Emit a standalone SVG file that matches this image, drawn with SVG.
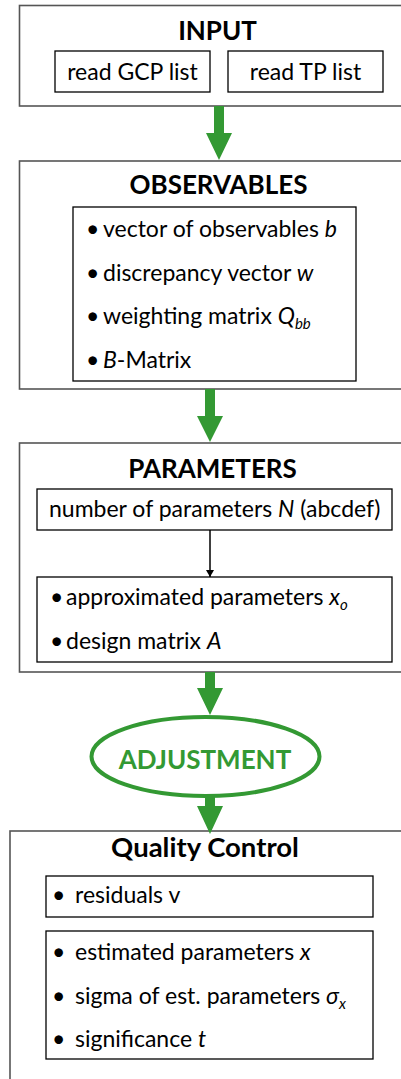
<svg xmlns="http://www.w3.org/2000/svg" width="401" height="1079" viewBox="0 0 401 1079">
<style>
.outer{fill:#fff;stroke:#555;stroke-width:1.6}
.inner{fill:#fff;stroke:#000;stroke-width:1.3}
.h{font-family:Lato,"Open Sans",sans-serif;font-weight:bold;font-size:26px;fill:#000;text-anchor:middle}
.t{font-family:Lato,"Open Sans",sans-serif;font-size:23px;fill:#000}
.c{text-anchor:middle}
.i{font-style:italic}
.sub{font-style:italic;font-size:15px}
.garrow{fill:#339933}
</style>
<defs>
<marker id="ah" markerWidth="8" markerHeight="8" refX="7" refY="4" orient="auto" markerUnits="userSpaceOnUse">
<path d="M0,0 L7,4 L0,8 z" fill="#000"/>
</marker>
</defs>
<rect width="401" height="1079" fill="#fff"/>

<g id="input">
<rect class="outer" x="19.5" y="5.5" width="400" height="100.5"/>
<text class="h" x="217.5" y="39.5">INPUT</text>
<g id="gcp">
<rect class="inner" x="55" y="51" width="155" height="41"/>
<text class="t c" x="132.5" y="80">read GCP list</text>
</g>
<g id="tp">
<rect class="inner" x="228" y="51" width="155" height="41"/>
<text class="t c" x="305.5" y="80">read TP list</text>
</g>
</g>

<g id="observables">
<rect class="outer" x="19.5" y="161" width="400" height="228"/>
<text class="h" x="218.5" y="194">OBSERVABLES</text>
<rect class="inner" x="73" y="207" width="283" height="174"/>
<text class="t" x="86" y="237">•<tspan x="103">vector of observables </tspan><tspan class="i">b</tspan></text>
<text class="t" x="86" y="281">•<tspan x="103">discrepancy vector </tspan><tspan class="i">w</tspan></text>
<text class="t" x="86" y="324">•<tspan x="103">weighting matrix </tspan><tspan class="i">Q</tspan><tspan class="sub" dy="5">bb</tspan></text>
<text class="t" x="86" y="368">•<tspan x="103" class="i">B</tspan>-Matrix</text>
</g>

<g id="parameters">
<rect class="outer" x="19.5" y="443" width="400" height="229"/>
<text class="h" x="212.5" y="478">PARAMETERS</text>
<g id="nparams">
<rect class="inner" x="37" y="489" width="355" height="41"/>
<text class="t" x="49" y="517">number of parameters <tspan class="i">N</tspan> (abcdef)</text>
</g>
<g id="approx">
<rect class="inner" x="37" y="577" width="355" height="85"/>
<text class="t" x="50" y="605">•<tspan x="66">approximated parameters </tspan><tspan class="i">x</tspan><tspan class="sub" dy="5">o</tspan></text>
<text class="t" x="50" y="649">•<tspan x="66">design matrix </tspan><tspan class="i">A</tspan></text>
</g>
</g>

<g id="adjustment">
<ellipse cx="205.5" cy="756.5" rx="114" ry="39.5" fill="#fff" stroke="#339933" stroke-width="4"/>
<text class="h" x="205" y="769" style="fill:#339933">ADJUSTMENT</text>
</g>

<g id="quality">
<rect class="outer" x="10" y="831" width="420" height="300"/>
<text class="h" x="205" y="857" style="font-size:27.5px">Quality Control</text>
<g id="residuals">
<rect class="inner" x="46" y="876" width="327" height="41"/>
<text class="t" x="52" y="903">•<tspan x="75">residuals v</tspan></text>
</g>
<g id="estimates">
<rect class="inner" x="46" y="931" width="327" height="128"/>
<text class="t" x="52" y="960">•<tspan x="75">estimated parameters </tspan><tspan class="i">x</tspan></text>
<text class="t" x="52" y="1004">•<tspan x="75">sigma of est. parameters </tspan><tspan class="i">σ</tspan><tspan class="sub" dy="5">x</tspan></text>
<text class="t" x="52" y="1047">•<tspan x="75">significance </tspan><tspan class="i">t</tspan></text>
</g>
</g>

<g id="connectors">
<polygon class="garrow" points="214,106 224,106 224,133 232,133 219,160 206,133 214,133"/>
<polygon class="garrow" points="205,389 215,389 215,416 223,416 210,442 197,416 205,416"/>
<polygon class="garrow" points="205,672 215,672 215,688 223,688 210,715 197,688 205,688"/>
<polygon class="garrow" points="205,797 215,797 215,806 223,806 210,834 197,806 205,806"/>
<line x1="210" y1="530" x2="210" y2="577" stroke="#000" stroke-width="1.5" marker-end="url(#ah)"/>
</g>
</svg>
